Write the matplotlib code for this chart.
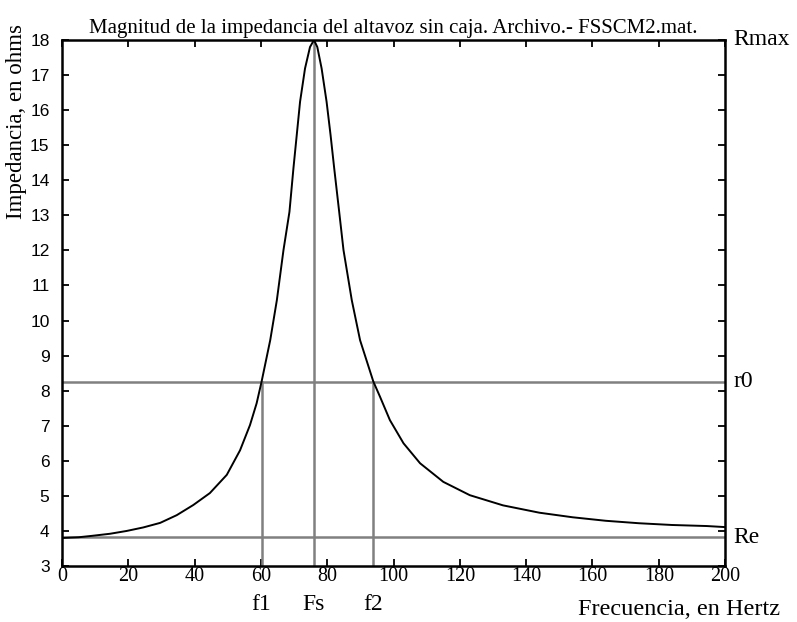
import numpy as np
import matplotlib.pyplot as plt

# curve (frequency in Hz, impedance in ohms)
freq = [0, 5, 9, 14.5, 19.5, 24.5, 29.6, 34.6, 39.6, 44.6, 49.7, 53.7, 56.7,
        58.7, 60.2, 62.8, 64.8, 66.8, 68.6, 69.8, 70.8, 71.8, 73.3, 74.8, 76.0,
        77.0, 78.3, 79.8, 81.0, 82.1, 83.6, 84.9, 87.4, 89.9, 93.9, 95.9, 98.9,
        103, 108, 115, 123, 133, 144, 154, 164, 174, 184, 194.5, 200]
imp = [3.8, 3.82, 3.86, 3.92, 4.0, 4.1, 4.23, 4.45, 4.74, 5.08, 5.6, 6.3, 7.02,
       7.64, 8.26, 9.44, 10.58, 12.01, 13.1, 14.34, 15.29, 16.24, 17.19, 17.8, 18.0,
       17.8, 17.19, 16.24, 15.29, 14.34, 13.1, 12.01, 10.58, 9.44, 8.26, 7.83, 7.16,
       6.5, 5.93, 5.40, 5.02, 4.73, 4.52, 4.39, 4.29, 4.22, 4.17, 4.14, 4.11]

f1, Fs, f2 = 60.2, 76.0, 93.9
Re, r0, Rmax = 3.82, 8.26, 18.0

xticks = list(range(0, 201, 20))
yticks = list(range(3, 19))

serif = 'Liberation Serif'

fig = plt.figure(figsize=(7.97, 6.22), dpi=100)
ax = fig.add_axes([0.0778, 0.09, 0.832, 0.8457])

gray = '#808080'
ax.axhline(Re, color=gray, lw=1.8)
ax.axhline(r0, color=gray, lw=1.8)
ax.plot([f1, f1], [3, r0], color=gray, lw=1.8)
ax.plot([f2, f2], [3, r0], color=gray, lw=1.8)
ax.plot([Fs, Fs], [3, Rmax], color=gray, lw=1.8)
ax.plot(freq, imp, color='black', lw=1.4)

ax.set_xlim(0, 200)
ax.set_ylim(3, 18)
ax.set_xticks(xticks)
ax.set_yticks(yticks)
ax.tick_params(direction='in', length=5, width=1.3, top=True, right=True, color='black')
ax.tick_params(axis='x', labelsize=14.5, pad=1)
ax.tick_params(axis='y', labelsize=12.5, pad=9)
for lab in ax.get_xticklabels():
    lab.set_family(serif)
for lab in ax.get_yticklabels():
    lab.set_family('Liberation Sans')
for s in ax.spines.values():
    s.set_linewidth(1.8)

ax.set_title('Magnitud de la impedancia del altavoz sin caja. Archivo.- FSSCM2.mat.',
             family=serif, fontsize=15, pad=5)
fig.text(0.021, 0.804, 'Impedancia, en ohms', rotation=90, family=serif, fontsize=16.5,
         ha='center', va='center')
fig.text(0.979, 0.004, 'Frecuencia, en Hertz', family=serif, fontsize=17.5,
         ha='right', va='bottom')

tr = ax.get_yaxis_transform()
ax.text(1.012, Rmax, 'Rmax', transform=tr, family=serif, fontsize=17, va='center')
ax.text(1.012, r0, 'r0', transform=tr, family=serif, fontsize=17, va='center')
ax.text(1.012, Re, 'Re', transform=tr, family=serif, fontsize=17, va='center')

tx = ax.get_xaxis_transform()
for xv, name in [(f1, 'f1'), (Fs, 'Fs'), (f2, 'f2')]:
    ax.text(xv, -0.073, name, transform=tx, family=serif, fontsize=17,
            ha='center', va='center')

plt.savefig('out.png', dpi=100)
